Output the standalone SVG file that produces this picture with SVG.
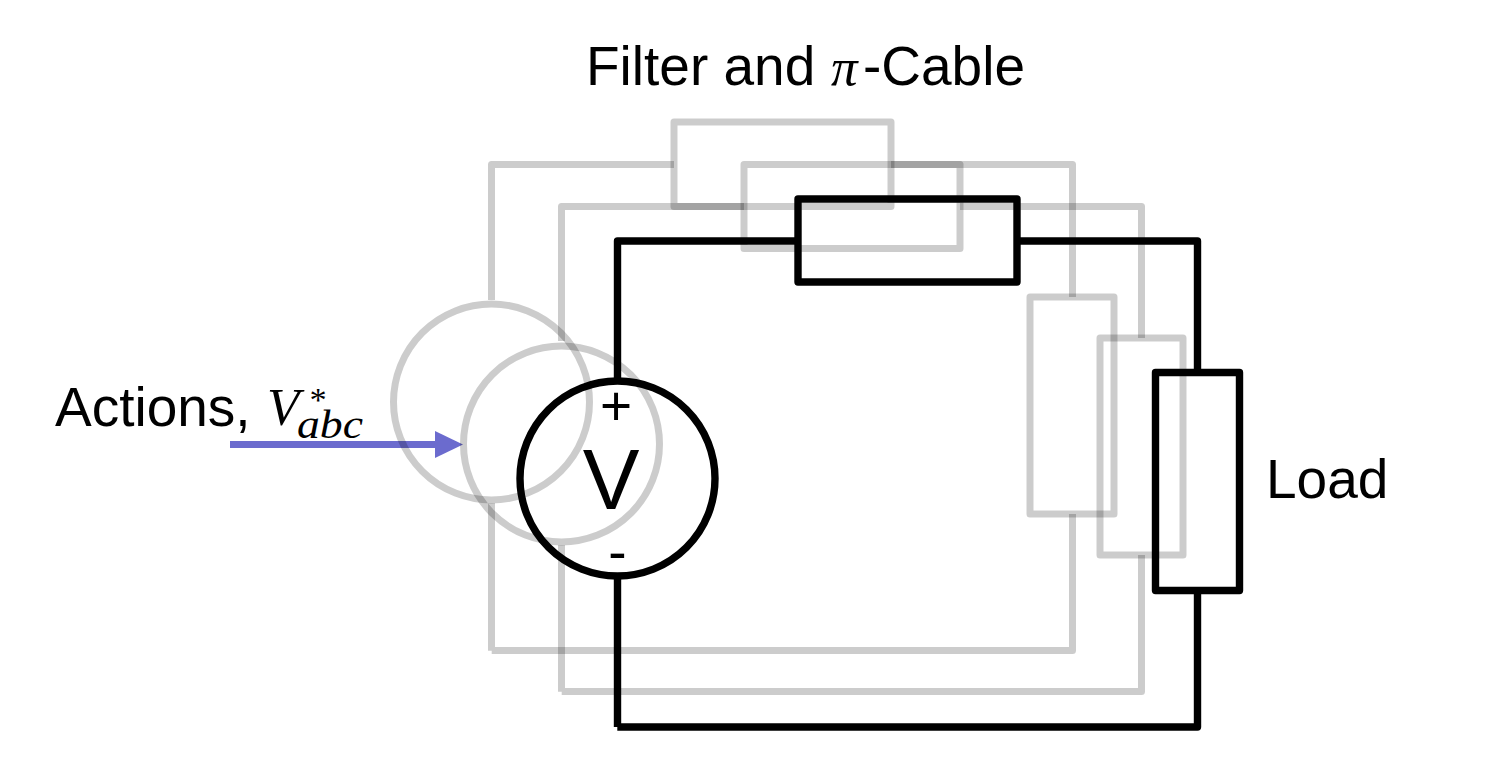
<svg xmlns="http://www.w3.org/2000/svg" width="1485" height="759" viewBox="0 0 1485 759">
  <defs>
    <style>
      .g { fill: none; stroke: #000; stroke-opacity: 0.2; stroke-width: 7; stroke-linejoin: round; }
      .k { fill: none; stroke: #000; stroke-width: 7.4; stroke-linejoin: round; }
      .t { font-family: "Liberation Sans", Arial, sans-serif; font-size: 55px; fill: #000; }
      .m { font-family: "Liberation Serif", "Times New Roman", serif; font-style: italic; fill: #000; }
    </style>
  </defs>
  <rect width="1485" height="759" fill="#fff"/>
  <g id="connectors">
    <path class="g" d="M491.5 300V164.500H674M891 164.500H1072.500V297M1072.500 514V650.500H491.700M491.500 650.700V503"/>
    <path class="g" d="M561.500 341V206.500H744M960 206.500H1141.500V338M1141.500 555V691.500H561.700M561.500 691.700V545"/>
    <path class="k" d="M617.500 380V241H798M1017 241H1197.500V372M1197.500 590V727H617.300M617.500 727V578"/>
    <path d="M230 444.500H436" fill="none" stroke="#6b6bce" stroke-width="7"/>
    <path d="M435 431L463 444.500L435 458Z" fill="#6b6bce"/>
  </g>
  <g id="source-a"><circle class="g" cx="491.500" cy="402" r="98"/></g>
  <g id="source-b"><circle class="g" cx="561.500" cy="444" r="98"/></g>
  <g id="filter-a"><rect class="g" x="674" y="122" width="217" height="84.500"/></g>
  <g id="filter-b"><rect class="g" x="744" y="164.500" width="216" height="84"/></g>
  <g id="load-a"><rect class="g" x="1030" y="297" width="84" height="217"/></g>
  <g id="load-b"><rect class="g" x="1100" y="338" width="83" height="217"/></g>
  <g id="source">
    <circle class="k" cx="617.500" cy="478.500" r="97.500"/>
    <text class="t" x="616" y="425" text-anchor="middle">+</text>
    <text class="t" x="611" y="509" text-anchor="middle" style="font-size:85px">V</text>
    <text class="t" x="617.500" y="571" text-anchor="middle">-</text>
  </g>
  <g id="filter"><rect class="k" x="798" y="199" width="219" height="83"/></g>
  <g id="load"><rect class="k" x="1155.500" y="372.500" width="84" height="218"/></g>
  <g id="labels">
    <text class="t" x="586" y="85">Filter and</text>
    <text class="m" x="831" y="85" font-size="53">π</text>
    <text class="t" x="863" y="85">-Cable</text>
    <text class="t" x="1266" y="498">Load</text>
    <text class="t" x="55" y="426">Actions,</text>
    <text class="m" x="267" y="425" font-size="53">V</text>
    <text class="m" x="308" y="411" font-size="34">*</text>
    <text class="m" x="297" y="438" font-size="41" textLength="66" lengthAdjust="spacingAndGlyphs">abc</text>
  </g>
</svg>
